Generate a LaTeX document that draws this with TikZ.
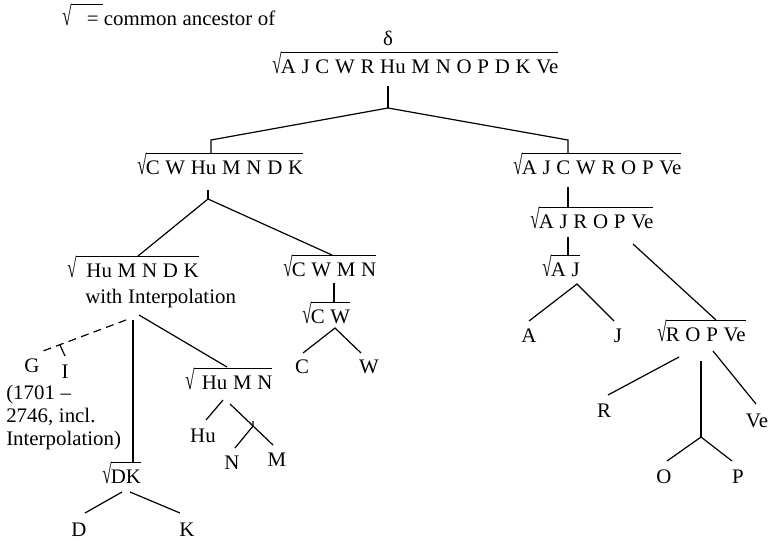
\documentclass[tikz,border=0pt]{standalone}
\usepackage{fontspec}
\setmainfont{Liberation Serif}[FakeStretch=1.01, WordSpace=1.1]
\newcommand\fs{\fontsize{15.5}{17.25}\selectfont}
\newsavebox\radbox
\newcommand\rad{\sbox\radbox{\resizebox*{7pt}{16.2pt}{√}}\raisebox{\dp\radbox}[0pt][0pt]{\usebox\radbox}}
\newcommand\sq[1]{\mbox{\rad\kern-0.6pt\vbox{\hrule height 0.7pt\kern 4.6pt\hbox{\vrule height 10.5pt depth 0pt width 0pt #1}}}}
\tikzset{
  lbl/.style={inner sep=0pt, anchor=north west, font=\fs},
  leaf/.style={inner sep=0pt, anchor=base, font=\fs},
  edge/.style={line width=0.9pt},
  dashedge/.style={line width=0.9pt, dash pattern=on 6pt off 4pt}
}
\begin{document}
\begin{tikzpicture}[x=0.75pt,y=-0.75pt]
\useasboundingbox (0,0) rectangle (774,544);
% legend
\node[lbl] (legend) at (62,4) {\sq{\kern 12pt=\kern 3pt}\kern1pt common ancestor of};
% root
\node[leaf, anchor=center] (delta) at (388,38) {δ};
\node[lbl] (root) at (272,52) {\sq{A J C W R Hu M N O P D K Ve}};
% inner nodes
\node[lbl] (cwhu) at (137,153) {\sq{C W Hu M N D K}};
\node[lbl] (ajcw) at (513,153) {\sq{A J C W R O P Ve}};
\node[lbl] (ajro) at (530,207) {\sq{A J R O P Ve}};
\node[lbl] (aj) at (542,255) {\sq{A J}};
\node[lbl] (ropve) at (657,320) {\sq{R O P Ve}};
\node[lbl] (humndk) at (67,256) {\sq{\kern 8pt Hu M N D K}};
\node[leaf, anchor=base west] (interp) at (85,303) {with Interpolation};
\node[lbl] (cwmn) at (283,255) {\sq{C W M N}};
\node[lbl] (cw) at (302,302) {\sq{C W}};
\node[lbl] (humn) at (185,368) {\sq{\kern 6pt Hu M N}};
\node[lbl] (dk) at (102,462) {\sq{DK}};
% leaves
\node[leaf] (A) at (529,342) {A};
\node[leaf] (J) at (618,342) {J};
\node[leaf] (R) at (604,417) {R};
\node[leaf] (Ve) at (757,427) {Ve};
\node[leaf] (O) at (664,483) {O};
\node[leaf] (P) at (738,483) {P};
\node[leaf] (C) at (302,373) {C};
\node[leaf] (W) at (369,373) {W};
\node[leaf] (G) at (32,372) {G};
\node[leaf] (I) at (65,378) {I};
\node[lbl, align=left] (Gnote) at (6,385) {(1701 –\\2746, incl.\\Interpolation)};
\node[leaf] (Hu) at (203,442) {Hu};
\node[leaf] (N) at (232,469) {N};
\node[leaf] (M) at (277,466) {M};
\node[leaf] (D) at (79,536) {D};
\node[leaf] (K) at (187,536) {K};
% coordinates
\coordinate (rs) at (388,86);
\coordinate (rj) at (388,108);
\coordinate (lk) at (211,140);
\coordinate (lt) at (211,153);
\coordinate (rk) at (568,140);
\coordinate (rt) at (568,153);
\coordinate (a1) at (568,187);
\coordinate (a2) at (568,207);
\coordinate (b1) at (568,237);
\coordinate (b2) at (568,255);
\coordinate (ajx) at (577,284);
\coordinate (Ae) at (529,321);
\coordinate (Je) at (614,321);
\coordinate (rs1) at (633,244);
\coordinate (rs2) at (716,320);
\coordinate (rR1) at (679,357);
\coordinate (rR2) at (608,395);
\coordinate (rv1) at (701,361);
\coordinate (rv2) at (701,437);
\coordinate (Oe) at (667,461);
\coordinate (Pe) at (732,461);
\coordinate (ve1) at (713,351);
\coordinate (ve2) at (756,404);
\coordinate (c1) at (208,190);
\coordinate (c2) at (208,199);
\coordinate (c3) at (138,256);
\coordinate (c4) at (332,255);
\coordinate (m1) at (334,283);
\coordinate (m2) at (334,302);
\coordinate (cwx) at (335,328);
\coordinate (Ce) at (303,353);
\coordinate (We) at (361,353);
\coordinate (ds1) at (126,320);
\coordinate (ds2) at (43,351);
\coordinate (i1) at (60,345);
\coordinate (i2) at (65,356);
\coordinate (v1) at (133,320);
\coordinate (v2) at (133,462);
\coordinate (h1) at (139,315);
\coordinate (h2) at (227,367);
\coordinate (hu1) at (223,400);
\coordinate (hu2) at (206,420);
\coordinate (mm1) at (230,404);
\coordinate (mm2) at (273,445);
\coordinate (nn0) at (253,421);
\coordinate (nn1) at (253,426);
\coordinate (nn2) at (235,448);
\coordinate (d1) at (122,492);
\coordinate (d2) at (85,513);
\coordinate (k1) at (130,492);
\coordinate (k2) at (180,513);
% connectors
\draw[edge] (rs) -- (rj);
\draw[edge] (rj) -- (lk) -- (lt);
\draw[edge] (rj) -- (rk) -- (rt);
\draw[edge] (a1) -- (a2);
\draw[edge] (b1) -- (b2);
\draw[edge] (Ae) -- (ajx) -- (Je);
\draw[edge] (rs1) -- (rs2);
\draw[edge] (rR1) -- (rR2);
\draw[edge] (rv1) -- (rv2);
\draw[edge] (Oe) -- (rv2) -- (Pe);
\draw[edge] (ve1) -- (ve2);
\draw[edge] (c1) -- (c2);
\draw[edge] (c3) -- (c2) -- (c4);
\draw[edge] (m1) -- (m2);
\draw[edge] (Ce) -- (cwx) -- (We);
\draw[dashedge] (ds1) -- (ds2);
\draw[edge] (i1) -- (i2);
\draw[edge] (v1) -- (v2);
\draw[edge] (h1) -- (h2);
\draw[edge] (hu1) -- (hu2);
\draw[edge] (mm1) -- (mm2);
\draw[edge] (nn0) -- (nn1) -- (nn2);
\draw[edge] (d1) -- (d2);
\draw[edge] (k1) -- (k2);
\end{tikzpicture}
\end{document}
